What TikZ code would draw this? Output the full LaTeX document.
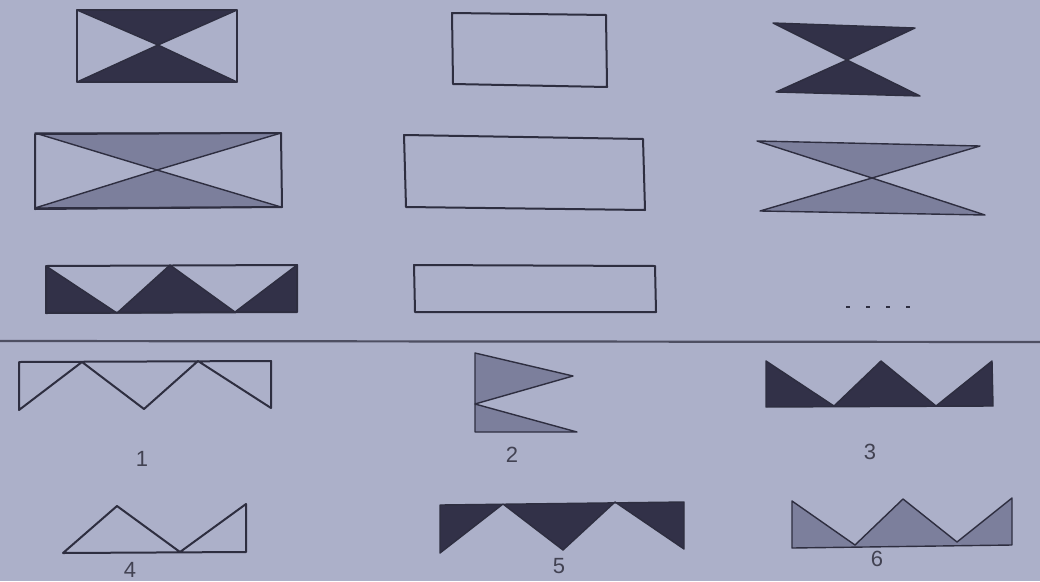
\documentclass[tikz,border=0pt]{standalone}
\usepackage{fontspec}
\setsansfont{Liberation Sans}
\usetikzlibrary{positioning}
\definecolor{paper}{RGB}{172,176,201}
\definecolor{ink}{RGB}{46,46,64}
\definecolor{darkfill}{RGB}{50,49,72}
\definecolor{grayfill}{RGB}{124,127,156}
\definecolor{digit}{RGB}{66,66,82}

\begin{document}
\begin{tikzpicture}[x=1pt, y=-1pt, line join=round,
    outl/.style={draw=ink, line width=2pt},
    dk/.style={fill=darkfill, draw=ink, line width=1.4pt},
    gr/.style={fill=grayfill, draw=ink, line width=1.4pt},
    num/.style={text=digit, font=\sffamily\fontsize{22}{24}\selectfont, inner sep=0pt}]
    \fill[paper] (0,0) rectangle (1040,581);
    \useasboundingbox (0,0) rectangle (1040,581);
    % question grid, row 1
    \draw[dk] (77,10) -- (237,10) -- (158,45) -- cycle;
    \draw[dk] (77,82) -- (237,82) -- (158,45) -- cycle;
    \draw[outl] (77,10) rectangle (237,82);
    \draw[outl] (452,13) -- (606,15) -- (607,87) -- (453,84) -- cycle;
    \draw[dk] (773,23) -- (915,28) -- (847,60) -- cycle;
    \draw[dk] (776,92) -- (920,96) -- (847,60) -- cycle;
    % row 2
    \draw[gr] (35,133) -- (281,133) -- (157,170) -- cycle;
    \draw[gr] (35,208) -- (281,207) -- (157,170) -- cycle;
    \draw[outl] (35,134) -- (281,133) -- (282,207) -- (35,209) -- cycle;
    \draw[outl] (404,135) -- (643,139) -- (645,210) -- (406,207) -- cycle;
    \draw[gr] (757,141) -- (980,146) -- (872,178) -- cycle;
    \draw[gr] (760,211) -- (985,215) -- (872,178) -- cycle;
    % row 3
    \draw[dk] (46,266) -- (117,313) -- (46,313) -- cycle;
    \draw[dk] (117,313) -- (170,265) -- (235,312) -- cycle;
    \draw[dk] (235,312) -- (297,265) -- (297,312) -- cycle;
    \draw[outl] (46,266) -- (297,265) -- (297,312) -- (46,313) -- cycle;
    \draw[outl] (414,265) -- (655,266) -- (656,312) -- (415,312) -- cycle;
    \draw[ink, line width=2.2pt, dash pattern=on 4pt off 16pt] (846,307) -- (912,307);
    % divider
    \draw[ink!75!paper, line width=2.2pt] (0,341) -- (1040,342);
    % answer 1
    \draw[outl] (19,362) -- (271,361) -- (271,408) -- (198,361)
        -- (144,409) -- (82,362) -- (19,410) -- cycle;
    \node[num] (n1) at (142,459) {1};
    % answer 2
    \draw[gr] (475,353) -- (573,376) -- (475,404) -- cycle;
    \draw[gr] (475,404) -- (577,432) -- (475,432) -- cycle;
    \node[num] (n2) at (512,455) {2};
    % answer 3
    \draw[dk] (766,361) -- (834,406) -- (881,361) -- (936,406) -- (992,361)
        -- (993,406) -- (766,407) -- cycle;
    \node[num] (n3) at (870,452) {3};
    % answer 4
    \draw[outl] (63,553) -- (117,506) -- (180,552) -- (246,504)
        -- (246,552) -- cycle;
    \node[num] (n4) at (130,570) {4};
    % answer 5
    \draw[dk] (440,505) -- (684,502) -- (684,549) -- (615,502) -- (563,550)
        -- (503,504) -- (440,553) -- cycle;
    \node[num] (n5) at (559,566) {5};
    % answer 6
    \draw[gr] (792,501) -- (855,545) -- (903,499) -- (957,542) -- (1012,498)
        -- (1012,545) -- (792,548) -- cycle;
    \node[num] (n6) at (877,559) {6};
\end{tikzpicture}
\end{document}
